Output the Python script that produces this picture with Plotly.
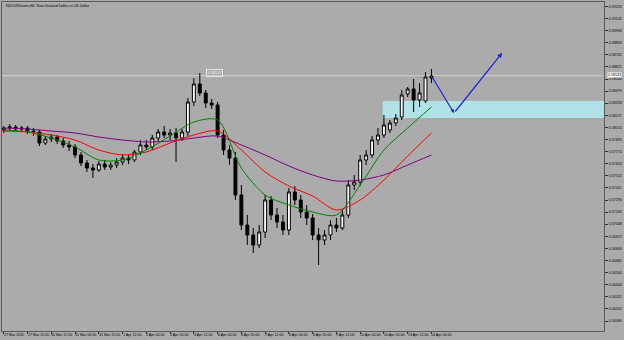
import plotly.graph_objects as go

# ---- data ----
bar_idx = list(range(73))
opens = [.5799,.5801,.5802,.5800,.5801,.5798,.5797,.5786,.5790,.5792,.5788,.5784,.5782,.5774,.5766,.5761,.5759,.5765,.5762,.5764,
         .5767,.5771,.5769,.5777,.5784,.5782,.5791,.5797,.5794,.5796,.5791,.5797,.5827,.5845,.5836,.5826,.5824,.5794,.5779,.5771,
         .5734,.5704,.5694,.5684,.5697,.5729,.5714,.5707,.5699,.5737,.5729,.5717,.5711,.5694,.5689,.5694,.5704,.5701,.5714,.5744,
         .5747,.5769,.5774,.5789,.5794,.5799,.5806,.5812,.5835,.5840,.5829,.5828,.5851]
highs = [.5803,.5805,.5804,.5803,.5803,.5801,.5799,.5793,.5795,.5794,.5791,.5788,.5785,.5777,.5769,.5765,.5768,.5769,.5767,.5771,
         .5775,.5774,.5779,.5789,.5789,.5794,.5800,.5803,.5800,.5801,.5800,.5831,.5851,.5856,.5839,.5830,.5827,.5799,.5784,.5777,
         .5744,.5714,.5701,.5704,.5734,.5733,.5721,.5714,.5741,.5743,.5734,.5724,.5715,.5701,.5699,.5709,.5711,.5719,.5749,.5754,
         .5774,.5779,.5793,.5801,.5814,.5809,.5815,.5839,.5842,.5850,.5846,.5857,.5860]
lows = [.5796,.5798,.5797,.5797,.5795,.5793,.5783,.5784,.5787,.5785,.5781,.5778,.5771,.5763,.5757,.5751,.5757,.5759,.5759,.5761,
        .5764,.5765,.5767,.5774,.5779,.5779,.5788,.5791,.5789,.5767,.5788,.5793,.5823,.5833,.5821,.5820,.5791,.5774,.5764,.5729,
        .5699,.5684,.5676,.5681,.5691,.5709,.5701,.5694,.5694,.5724,.5711,.5704,.5689,.5664,.5684,.5689,.5697,.5699,.5711,.5739,
        .5743,.5764,.5771,.5784,.5791,.5796,.5803,.5809,.5832,.5817,.5822,.5826,.5846]
closes = [.5801,.5802,.5800,.5801,.5798,.5797,.5786,.5790,.5792,.5788,.5784,.5782,.5774,.5766,.5761,.5759,.5765,.5762,.5764,.5767,
          .5771,.5769,.5777,.5784,.5782,.5791,.5797,.5794,.5796,.5791,.5797,.5827,.5845,.5836,.5826,.5824,.5794,.5779,.5771,.5734,
          .5704,.5694,.5684,.5697,.5729,.5714,.5707,.5699,.5737,.5729,.5717,.5711,.5694,.5689,.5694,.5704,.5701,.5714,.5744,.5747,
          .5769,.5774,.5789,.5794,.5804,.5806,.5811,.5834,.5840,.5829,.5836,.5852,.5853]

ma_idx = [0, 4, 8, 12, 16, 20, 24, 28, 32, 36, 40, 44, 48, 52, 56, 60, 64, 68, 72]
ma_green = [.5799,.5797,.5791,.5782,.5769,.5769,.5779,.5793,.5807,.5809,.5761,.5734,.5724,.5717,.5714,.5744,.5779,.5801,.5822]
ma_red = [.5798,.5797,.5794,.5789,.5779,.5774,.5777,.5786,.5794,.5798,.5779,.5757,.5743,.5733,.5719,.5729,.5749,.5773,.5796]
ma_purple = [.5801,.5800,.5798,.5796,.5792,.5789,.5787,.5788,.5791,.5793,.5784,.5774,.5763,.5754,.5748,.5749,.5754,.5764,.5774]

x_tick_idx = [0, 4, 8, 12, 16, 20, 24, 28, 32, 36, 40, 44, 48, 52, 56, 60, 64, 68, 72]
x_tick_text = ["27 Mar 2020", "27 Mar 20:00", "30 Mar 12:00", "31 Mar 04:00", "31 Mar 20:00", "1 Apr 12:00",
               "2 Apr 04:00", "2 Apr 20:00", "3 Apr 12:00", "6 Apr 04:00", "6 Apr 20:00", "7 Apr 12:00",
               "8 Apr 04:00", "8 Apr 20:00", "9 Apr 12:00", "10 Apr 04:00", "10 Apr 20:00", "13 Apr 12:00", "14 Apr 04:00"]

y_tick_vals = [0.59226, 0.59105, 0.58984, 0.58863, 0.58742, 0.58621, 0.58500, 0.58379, 0.58258, 0.58137,
               0.58016, 0.57895, 0.57774, 0.57653, 0.57532, 0.57411, 0.57290, 0.57169, 0.57048, 0.56927,
               0.56806, 0.56685, 0.56564, 0.56443, 0.56322, 0.56201, 0.56080]
y_tick_text = ["%.5f" % v for v in y_tick_vals]

last_price = 0.58533
last_price_text = "0.58533"
zone_x0 = 63.8
zone_low, zone_high = 0.5811, 0.5828
arrow_x = [72, 75.8, 83.9]
arrow_y = [0.5853, 0.5816, 0.5876]
label_x, label_y = 35.4, 0.5856
title_text = "NZDUSDrates,H4: New Zealand Dollar vs US Dollar"

BG = "#ABABAB"
FONT = "Liberation Sans"
FS = 3.6

fig = go.Figure()
fig.add_shape(type="rect", xref="x", yref="y", x0=zone_x0, x1=110, y0=zone_low, y1=zone_high,
              fillcolor="#B0E2E8", line=dict(width=0), layer="below")
fig.add_shape(type="line", xref="paper", yref="y", x0=0, x1=1, y0=last_price, y1=last_price,
              line=dict(color="#CFCFCF", width=1), layer="below")

fig.add_trace(go.Candlestick(
    x=bar_idx, open=opens, high=highs, low=lows, close=closes,
    increasing=dict(line=dict(color="#000000", width=1), fillcolor="#FFFFFF"),
    decreasing=dict(line=dict(color="#000000", width=1), fillcolor="#000000"),
    whiskerwidth=0, showlegend=False, hoverinfo="skip"))

for vals, col in [(ma_purple, "#800080"), (ma_red, "#FF0000"), (ma_green, "#008000")]:
    fig.add_trace(go.Scatter(x=ma_idx, y=vals, mode="lines",
                             line=dict(color=col, width=1, shape="spline", smoothing=0.8),
                             showlegend=False, hoverinfo="skip"))

# blue projection arrows
fig.add_annotation(x=arrow_x[1], y=arrow_y[1], ax=arrow_x[0], ay=arrow_y[0], xref="x", yref="y",
                   axref="x", ayref="y", showarrow=True, arrowhead=2, arrowsize=0.6, arrowwidth=1.2,
                   arrowcolor="#2222DD", text="")
fig.add_annotation(x=arrow_x[2], y=arrow_y[2], ax=arrow_x[1], ay=arrow_y[1], xref="x", yref="y",
                   axref="x", ayref="y", showarrow=True, arrowhead=2, arrowsize=0.8, arrowwidth=1.2,
                   arrowcolor="#2222DD", text="")

# time labels (left-aligned at their tick, as in the terminal)
for xi, txt in zip(x_tick_idx, x_tick_text):
    fig.add_annotation(x=xi, y=0, xref="x", yref="paper", xanchor="left", yanchor="top",
                       text=txt, showarrow=False, xshift=-1, yshift=-1, borderpad=0,
                       font=dict(size=FS, color="#000000", family=FONT))

# price labels
fig.add_annotation(x=1, y=last_price, xref="paper", yref="y", xanchor="left", yanchor="bottom",
                   text=last_price_text, showarrow=False, bgcolor="#FFFFFF", xshift=3, yshift=-2,
                   font=dict(size=FS, color="#000000", family=FONT), borderpad=0)
fig.add_annotation(x=label_x, y=label_y, xref="x", yref="y", xanchor="center", yanchor="middle",
                   text=last_price_text, showarrow=False, bordercolor="#E6E6E6", borderwidth=1, borderpad=1,
                   font=dict(size=FS, color="#EEEEEE", family=FONT))
fig.add_annotation(x=0, y=1, xref="paper", yref="paper", xanchor="left", yanchor="top",
                   text=title_text, showarrow=False, xshift=2, yshift=0,
                   font=dict(size=FS, color="#000000", family=FONT))

fig.update_layout(
    width=624, height=340, margin=dict(l=2, r=20, t=2, b=9, autoexpand=False),
    paper_bgcolor=BG, plot_bgcolor=BG, showlegend=False,
    font=dict(family=FONT, size=FS, color="#000000"),
    xaxis=dict(range=[-0.3, 101.05], tickmode="array", tickvals=x_tick_idx, showticklabels=False,
               ticks="outside", ticklen=2, tickcolor="#333333",
               showgrid=False, zeroline=False, showline=True, linecolor="#5A5A5A",
               linewidth=1, mirror=True, rangeslider=dict(visible=False), automargin=False),
    yaxis=dict(range=[0.5598, 0.5927], side="right", tickmode="array", tickvals=y_tick_vals,
               ticktext=y_tick_text, ticks="outside", ticklen=3, tickcolor="#333333",
               tickfont=dict(size=FS), showgrid=False, zeroline=False, showline=True, linecolor="#5A5A5A",
               linewidth=1, mirror=True, automargin=False),
)

fig.write_html("out.html")
